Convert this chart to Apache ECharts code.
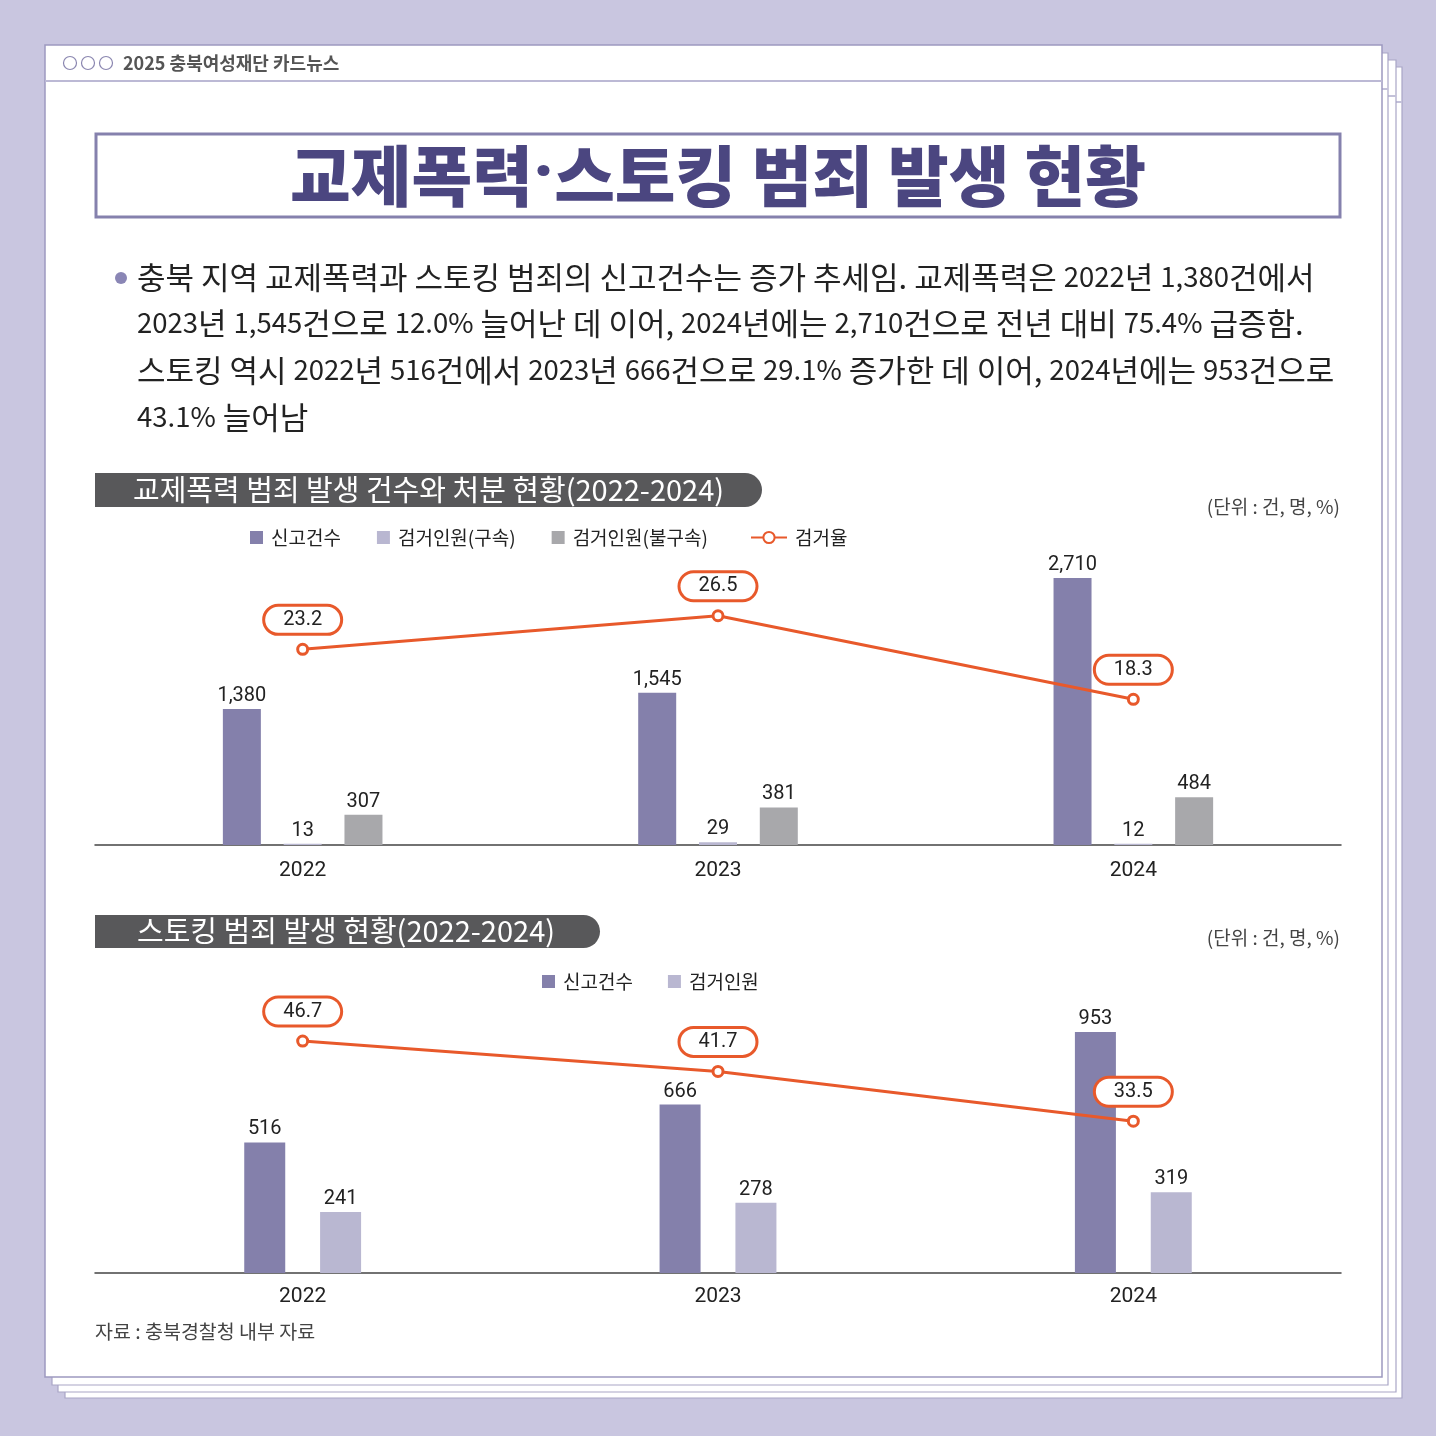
<!DOCTYPE html>
<html>
<head>
<meta charset="utf-8">
<script src="https://cdn.jsdelivr.net/npm/echarts/dist/echarts.min.js"></script>
<style>
html, body { margin: 0; padding: 0; background: #c9c6e0; }
#chart { width: 1436px; height: 1436px; }
</style>
</head>
<body>
<div id="chart"></div>
<script>
// 데이터
var years = ['2022', '2023', '2024'];

// 교제폭력
var datingReports = [1380, 1545, 2710];
var datingArrestDetained = [13, 29, 12];
var datingArrestFree = [307, 381, 484];
var datingArrestRate = [23.2, 26.5, 18.3];

// 스토킹
var stalkReports = [516, 666, 953];
var stalkArrests = [241, 278, 319];
var stalkArrestRate = [46.7, 41.7, 33.5];

var bodyLines = [
    '충북 지역 교제폭력과 스토킹 범죄의 신고건수는 증가 추세임. 교제폭력은 2022년 1,380건에서',
    '2023년 1,545건으로 12.0% 늘어난 데 이어, 2024년에는 2,710건으로 전년 대비 75.4% 급증함.',
    '스토킹 역시 2022년 516건에서 2023년 666건으로 29.1% 증가한 데 이어, 2024년에는 953건으로',
    '43.1% 늘어남'
];

var KR = '"Noto Sans CJK KR", "Noto Sans", sans-serif';
var NUM = 'Roboto, "Noto Sans", sans-serif';
var C_REPORT = '#8480ab';
var C_LIGHT = '#b9b7d1';
var C_GRAY = '#a8a8ab';
var C_RATE = '#e8592b';

function comma(v) {
    return String(v).replace(/\B(?=(\d{3})+(?!\d))/g, ',');
}

// 숫자는 조금 작게, 한글은 본문 크기
function richLine(t) {
    return t.replace(/([0-9][0-9.,%]*)|([^0-9]+)/g, function (m, n, h) {
        return n ? '{n|' + n + '}' : '{h|' + h + '}';
    });
}

var barLabel = {
    show: true,
    position: 'top',
    distance: 3,
    fontFamily: NUM,
    fontSize: 20,
    color: '#222',
    formatter: function (p) { return comma(p.value); }
};

var rateLabel = {
    show: true,
    position: 'top',
    distance: 10,
    fontFamily: NUM,
    fontSize: 20,
    lineHeight: 20,
    color: '#222',
    backgroundColor: '#fff',
    borderColor: C_RATE,
    borderWidth: 3,
    borderRadius: 15,
    padding: [3, 18]
};

// 배경 카드 (겹친 종이)
var graphics = [];
var pages = [
    [65, 67, 1402, 1398, 102],
    [58, 60, 1396, 1392, 96],
    [52, 53, 1388, 1385, 89]
];
pages.forEach(function (p) {
    graphics.push({
        type: 'rect', shape: { x: p[0], y: p[1], width: p[2] - p[0], height: p[3] - p[1] },
        style: { fill: '#fff', stroke: '#a9a6c6', lineWidth: 1.2 }, z: -10
    });
    graphics.push({
        type: 'line', shape: { x1: p[0], y1: p[4], x2: p[2], y2: p[4] },
        style: { stroke: '#c3c1d9', lineWidth: 2 }, z: -10
    });
});
graphics.push({
    type: 'rect', shape: { x: 45, y: 45, width: 1337, height: 1332 },
    style: { fill: '#fff', stroke: '#9d99c0', lineWidth: 1.5 }, z: -9
});
graphics.push({
    type: 'line', shape: { x1: 45, y1: 81, x2: 1382, y2: 81 },
    style: { stroke: '#bcb9d5', lineWidth: 2 }, z: -9
});
[70, 88, 106].forEach(function (cx) {
    graphics.push({
        type: 'circle', shape: { cx: cx, cy: 63, r: 6.5 },
        style: { fill: '#fff', stroke: '#8a86b0', lineWidth: 1.2 }
    });
});
graphics.push({
    type: 'text', x: 123, y: 63,
    style: { text: '2025 충북여성재단 카드뉴스', fontFamily: KR, fontSize: 18, fontWeight: 'bold', fill: '#555', textVerticalAlign: 'middle' }
});

// 제목
graphics.push({
    type: 'rect', shape: { x: 96, y: 134, width: 1244, height: 83 },
    style: { fill: 'none', stroke: '#8581ad', lineWidth: 3 }
});
graphics.push({
    type: 'text', x: 718, y: 176,
    style: {
        text: '{a|교제폭력}{d|·}{a|스토킹 범죄 발생 현황}',
        textAlign: 'center', textVerticalAlign: 'middle',
        rich: {
            a: { fontFamily: KR, fontSize: 66, fontWeight: 900, fill: '#4b4680', lineHeight: 70 },
            d: { fontFamily: NUM, fontSize: 66, fontWeight: 900, fill: '#4b4680', lineHeight: 70 }
        }
    }
});

// 본문
graphics.push({
    type: 'circle', shape: { cx: 121, cy: 278, r: 6 },
    style: { fill: '#8a86b5' }
});
var lineY = [277, 323, 370, 417];
bodyLines.forEach(function (t, i) {
    graphics.push({
        type: 'text', x: 137, y: lineY[i],
        style: {
            text: richLine(t), textVerticalAlign: 'middle',
            rich: {
                h: { fontFamily: KR, fontSize: 31, fill: '#222', lineHeight: 40 },
                n: { fontFamily: KR, fontSize: 27.5, fill: '#222', lineHeight: 40 }
            }
        }
    });
});

// 섹션 제목
graphics.push({
    type: 'rect', shape: { x: 95, y: 473, width: 667, height: 34, r: [0, 17, 17, 0] },
    style: { fill: '#58585a' }
});
graphics.push({
    type: 'text', x: 133, y: 490,
    style: { text: '교제폭력 범죄 발생 건수와 처분 현황(2022-2024)', fontFamily: KR, fontSize: 29, fill: '#fff', textVerticalAlign: 'middle' }
});
graphics.push({
    type: 'text', x: 1340, y: 507,
    style: { text: '(단위 : 건, 명, %)', fontFamily: KR, fontSize: 19, fill: '#444', textAlign: 'right', textVerticalAlign: 'middle' }
});
graphics.push({
    type: 'rect', shape: { x: 95, y: 915, width: 505, height: 33, r: [0, 16.5, 16.5, 0] },
    style: { fill: '#58585a' }
});
graphics.push({
    type: 'text', x: 137, y: 931,
    style: { text: '스토킹 범죄 발생 현황(2022-2024)', fontFamily: KR, fontSize: 29, fill: '#fff', textVerticalAlign: 'middle' }
});
graphics.push({
    type: 'text', x: 1340, y: 938,
    style: { text: '(단위 : 건, 명, %)', fontFamily: KR, fontSize: 19, fill: '#444', textAlign: 'right', textVerticalAlign: 'middle' }
});
graphics.push({
    type: 'text', x: 95, y: 1332,
    style: { text: '자료 : 충북경찰청 내부 자료', fontFamily: KR, fontSize: 19.5, fill: '#444', textVerticalAlign: 'middle' }
});

var myChart = echarts.init(document.getElementById('chart'));
var option = {
    animation: false,
    backgroundColor: 'transparent',
    graphic: graphics,
    legend: [
        {
            left: 245, top: 523, itemWidth: 13, itemHeight: 13, itemGap: 36,
            icon: 'rect',
            data: ['신고건수', '검거인원(구속)', '검거인원(불구속)'],
            textStyle: { fontFamily: KR, fontSize: 19, color: '#222', padding: [0, 0, 0, 3] }
        },
        {
            left: 745, top: 523, itemWidth: 36, itemHeight: 14,
            data: ['검거율'],
            textStyle: { fontFamily: KR, fontSize: 19, color: '#222', padding: [0, 0, 0, 3] }
        },
        {
            left: 537, top: 967, itemWidth: 13, itemHeight: 13, itemGap: 35,
            icon: 'rect',
            data: ['신고건수', '검거인원'],
            textStyle: { fontFamily: KR, fontSize: 19, color: '#222', padding: [0, 0, 0, 3] }
        }
    ],
    grid: [
        { left: 95, width: 1246, top: 549.5, height: 295.5 },
        { left: 95, width: 1246, top: 969.4, height: 303.6 }
    ],
    xAxis: [
        {
            type: 'category', gridIndex: 0, data: years,
            axisTick: { show: false },
            axisLine: { lineStyle: { color: '#444', width: 1.5 } },
            axisLabel: { fontFamily: NUM, fontSize: 21, color: '#222', margin: 15 }
        },
        {
            type: 'category', gridIndex: 1, data: years,
            axisTick: { show: false },
            axisLine: { lineStyle: { color: '#444', width: 1.5 } },
            axisLabel: { fontFamily: NUM, fontSize: 21, color: '#222', margin: 13 }
        }
    ],
    yAxis: [
        { type: 'value', gridIndex: 0, min: 0, max: 3000, show: false },
        { type: 'value', gridIndex: 0, min: 4, max: 33, show: false },
        { type: 'value', gridIndex: 1, min: 0, max: 1200, show: false },
        { type: 'value', gridIndex: 1, min: 8.5, max: 58.5, show: false }
    ],
    series: [
        {
            name: '신고건수', type: 'bar', xAxisIndex: 0, yAxisIndex: 0,
            data: datingReports, barWidth: 38, barGap: '60%',
            itemStyle: { color: C_REPORT }, label: barLabel
        },
        {
            name: '검거인원(구속)', type: 'bar', xAxisIndex: 0, yAxisIndex: 0,
            data: datingArrestDetained, barWidth: 38, barGap: '60%',
            itemStyle: { color: C_LIGHT }, label: barLabel
        },
        {
            name: '검거인원(불구속)', type: 'bar', xAxisIndex: 0, yAxisIndex: 0,
            data: datingArrestFree, barWidth: 38, barGap: '60%',
            itemStyle: { color: C_GRAY }, label: barLabel
        },
        {
            name: '검거율', type: 'line', xAxisIndex: 0, yAxisIndex: 1,
            data: datingArrestRate, symbol: 'circle', symbolSize: 10,
            itemStyle: { color: '#fff', borderColor: C_RATE, borderWidth: 3 },
            lineStyle: { color: C_RATE, width: 3 },
            label: rateLabel, z: 5
        },
        {
            name: '신고건수', type: 'bar', xAxisIndex: 1, yAxisIndex: 2,
            data: stalkReports, barWidth: 41, barGap: '85%',
            itemStyle: { color: C_REPORT }, label: barLabel
        },
        {
            name: '검거인원', type: 'bar', xAxisIndex: 1, yAxisIndex: 2,
            data: stalkArrests, barWidth: 41, barGap: '85%',
            itemStyle: { color: C_LIGHT }, label: barLabel
        },
        {
            name: '스토킹 검거율', type: 'line', xAxisIndex: 1, yAxisIndex: 3,
            data: stalkArrestRate, symbol: 'circle', symbolSize: 10,
            itemStyle: { color: '#fff', borderColor: C_RATE, borderWidth: 3 },
            lineStyle: { color: C_RATE, width: 3 },
            label: rateLabel, z: 5
        }
    ]
};
myChart.setOption(option);
window.addEventListener('resize', function () {
    myChart.resize();
});
</script>
</body>
</html>
